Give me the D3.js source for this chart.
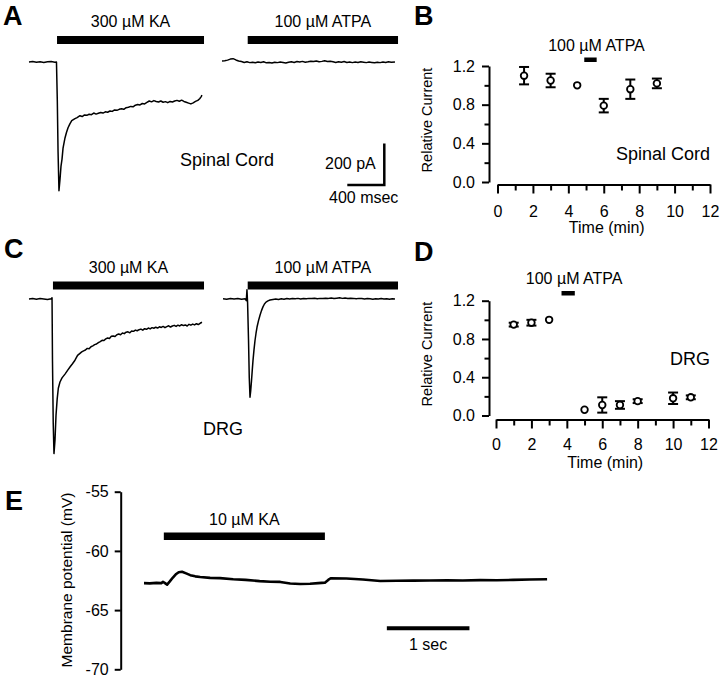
<!DOCTYPE html>
<html>
<head>
<meta charset="utf-8">
<script src="https://cdnjs.cloudflare.com/ajax/libs/d3/7.8.5/d3.min.js"></script>
<style>
  body { margin: 0; background: #fff; }
  svg { font-family: "Liberation Sans", Arial, sans-serif; }
</style>
</head>
<body>
<div id="wrapper"></div>
<script>
// ---- data ----
// whole-cell currents: [time (msec), current (pA)], 0 pA = holding baseline
const kaSpinal = [[0,0],[40,2],[80,-1],[120,1],[160,-2],[200,1],[240,2],[280,-1],[297,0],[306,-185],[314,-430],[324,-620],[335,-566],[346,-502],[357,-468],[368,-415],[389,-366],[405,-340],[422,-317],[442,-298],[462,-283],[497,-273],[520,-268],[551,-259],[575,-263],[600,-255],[625,-257],[650,-252],[675,-254],[700,-246],[725,-251],[750,-247],[775,-243],[800,-246],[825,-240],[850,-242],[875,-236],[900,-238],[925,-231],[950,-233],[975,-228],[1000,-225],[1025,-228],[1050,-220],[1075,-218],[1100,-214],[1125,-216],[1150,-208],[1175,-205],[1200,-207],[1225,-200],[1250,-202],[1275,-195],[1300,-188],[1325,-192],[1350,-186],[1375,-190],[1400,-193],[1425,-188],[1450,-194],[1475,-191],[1500,-196],[1525,-190],[1550,-193],[1575,-188],[1600,-185],[1625,-189],[1650,-184],[1675,-190],[1700,-194],[1725,-198],[1750,-202],[1775,-197],[1800,-190],[1825,-185],[1845,-177],[1860,-168],[1870,-160]];
const atpaSpinal = [[0,5],[30,6],[60,9],[90,14],[120,16],[150,10],[180,5],[210,2],[240,-2],[270,1],[300,-3],[330,-1],[360,-4],[390,0],[420,-2],[450,1],[480,-4],[510,-2],[540,-5],[570,-1],[600,-3],[630,0],[660,-2],[690,-5],[720,-1],[750,1],[780,-2],[810,2],[840,0],[870,3],[900,-1],[930,1],[960,4],[990,2],[1020,5],[1050,1],[1080,3],[1110,6],[1140,2],[1170,4],[1200,1],[1230,-2],[1260,1],[1290,-1],[1320,2],[1350,-2],[1380,0],[1410,-3],[1440,0],[1470,-2],[1500,1],[1530,-1],[1560,-3],[1590,0],[1620,-2],[1650,-4],[1680,-1],[1710,-3],[1740,0],[1770,-2],[1800,1],[1830,-1],[1870,0]];
const kaDrg = [[0,0],[40,2],[80,-1],[120,2],[160,0],[200,-2],[240,1],[249,6],[254,-300],[262,-600],[270,-745],[281,-680],[292,-560],[305,-480],[317,-430],[335,-400],[357,-380],[389,-362],[415,-345],[443,-328],[470,-312],[497,-295],[525,-272],[551,-262],[570,-255],[590,-250],[610,-246],[630,-238],[650,-240],[670,-230],[690,-226],[710,-220],[730,-217],[750,-210],[770,-205],[790,-199],[810,-200],[830,-192],[850,-188],[870,-190],[890,-180],[910,-178],[930,-181],[950,-172],[970,-169],[990,-172],[1010,-164],[1030,-167],[1050,-160],[1070,-158],[1090,-163],[1110,-154],[1130,-156],[1150,-150],[1170,-153],[1190,-148],[1210,-145],[1230,-150],[1250,-143],[1270,-146],[1290,-140],[1310,-144],[1330,-138],[1350,-141],[1370,-136],[1390,-140],[1410,-134],[1430,-137],[1450,-132],[1470,-138],[1490,-133],[1510,-129],[1530,-135],[1550,-130],[1570,-127],[1590,-132],[1610,-126],[1630,-130],[1650,-124],[1670,-128],[1690,-125],[1710,-130],[1730,-122],[1750,-126],[1770,-121],[1790,-125],[1810,-119],[1830,-123],[1850,-117],[1870,-112]];
const atpaDrg = [[0,1],[40,-1],[80,2],[120,0],[160,2],[200,-1],[240,1],[252,-8],[259,44],[266,-20],[276,-200],[284,-380],[292,-473],[300,-440],[308,-395],[316,-345],[324,-298],[335,-245],[346,-200],[357,-165],[368,-135],[384,-104],[400,-78],[416,-56],[432,-38],[448,-24],[465,-15],[486,-9],[508,-5],[540,-2],[570,0],[600,-2],[630,1],[660,-1],[690,2],[720,0],[750,2],[780,1],[810,3],[840,0],[870,2],[900,1],[930,3],[960,2],[990,4],[1020,1],[1050,3],[1080,2],[1110,4],[1140,3],[1170,5],[1200,2],[1230,4],[1260,6],[1290,3],[1320,5],[1350,2],[1380,4],[1410,3],[1440,1],[1470,3],[1500,2],[1530,0],[1560,2],[1590,1],[1620,-1],[1650,1],[1680,0],[1710,2],[1740,0],[1770,1],[1800,-1],[1830,1],[1859,0]];

// drug application periods (msec, same time base as the traces)
const kaBarSpinal = [303, 1892];
const atpaBarSpinal = [278, 1903];
const kaBarDrg = [259, 1892];
const atpaBarDrg = [267, 1892];
const scaleBarPA = 200;
const scaleBarMs = 400;

// summary plots: relative current vs time (min)
const timeB = [1.5, 3, 4.5, 6, 7.5, 9];
const currentB = [1.10, 1.05, 1.00, 0.79, 0.96, 1.02];
const errB = [0.09, 0.07, 0, 0.07, 0.10, 0.05];
const atpaB = [4.9, 5.6];

const timeD = [1, 2, 3, 5, 6, 7, 8, 10, 11];
const currentD = [0.95, 0.97, 1.00, 0.06, 0.11, 0.11, 0.15, 0.18, 0.19];
const errD = [0.02, 0.03, 0, 0, 0.08, 0.04, 0.02, 0.06, 0.02];
const atpaD = [3.7, 4.45];

const yTicksRel = [0, 0.4, 0.8, 1.2];
const yMinorRel = [0.2, 0.6, 1.0];
const xTicksMin = [0, 2, 4, 6, 8, 10, 12];
const xMinorMin = [1, 3, 5, 7, 9, 11];

// membrane potential (sec, mV)
const membraneTime = [0,0.07,0.15,0.21,0.23,0.25,0.28,0.31,0.35,0.39,0.42,0.46,0.51,0.56,0.62,0.68,0.8,0.92,1.08,1.23,1.4,1.53,1.65,1.77,1.89,2.01,2.11,2.19,2.23,2.26,2.45,2.65,2.86,3.06,3.26,3.46,3.67,3.86,4.07,4.27,4.47,4.67,4.88];
const membraneMv = [-62.72,-62.74,-62.7,-62.72,-62.62,-62.7,-62.85,-62.6,-62.25,-61.95,-61.8,-61.76,-61.9,-62.05,-62.15,-62.2,-62.28,-62.3,-62.4,-62.45,-62.55,-62.6,-62.62,-62.75,-62.79,-62.77,-62.72,-62.68,-62.45,-62.31,-62.33,-62.42,-62.54,-62.52,-62.51,-62.5,-62.48,-62.5,-62.47,-62.48,-62.45,-62.42,-62.39];
const kaBarE = [0.24, 2.19];
const secBarE = [2.94, 3.94];
const mvTicks = [-55, -60, -65, -70];

// ---- canvas ----
const width = 720, height = 677;
const wrapper = d3.select("#wrapper")
  .append("svg")
    .attr("width", width)
    .attr("height", height);

const msPx = 37 / 400;   // px per msec (from 400 msec bar)
const paPx = 41.5 / 200; // px per pA (from 200 pA bar)

const addText = (txt, x, y, size, anchor = "start", weight = "normal") =>
  wrapper.append("text")
    .attr("x", x).attr("y", y)
    .attr("font-size", size)
    .attr("font-weight", weight)
    .attr("text-anchor", anchor)
    .attr("fill", "#000")
    .text(txt);

// panel letters
addText("A", 3, 25, 27, "start", "bold");
addText("B", 414, 25, 27, "start", "bold");
addText("C", 4, 258, 27, "start", "bold");
addText("D", 414, 261, 27, "start", "bold");
addText("E", 5, 510, 27, "start", "bold");

// ---- current traces ----
const drawTrace = (data, x0, y0, bar, barTop, label) => {
  const xScale = d3.scaleLinear().domain([0, 1]).range([x0, x0 + msPx]);
  const yScale = d3.scaleLinear().domain([0, -1]).range([y0, y0 + paPx]);
  wrapper.append("path")
    .datum(data)
    .attr("d", d3.line().x(d => xScale(d[0])).y(d => yScale(d[1])))
    .attr("fill", "none")
    .attr("stroke", "#000")
    .attr("stroke-width", 1.5)
    .attr("stroke-linejoin", "round");

  wrapper.append("rect")
    .attr("x", xScale(bar[0]))
    .attr("y", barTop)
    .attr("width", xScale(bar[1]) - xScale(bar[0]))
    .attr("height", 8)
    .attr("fill", "#000");
  addText(label, (xScale(bar[0]) + xScale(bar[1])) / 2, barTop - 9, 16, "middle");
};

drawTrace(kaSpinal, 29, 62, kaBarSpinal, 36, "300 µM KA");
drawTrace(atpaSpinal, 222, 62, atpaBarSpinal, 36, "100 µM ATPA");
drawTrace(kaDrg, 29, 299, kaBarDrg, 281.5, "300 µM KA");
drawTrace(atpaDrg, 223, 299, atpaBarDrg, 281.5, "100 µM ATPA");

addText("Spinal Cord", 180, 166, 18);
addText("DRG", 203, 435, 18);

// scale bar
const sbX = d3.scaleLinear().domain([0, 1]).range([347.3, 347.3 + msPx]);
const sbY = d3.scaleLinear().domain([0, 1]).range([185, 185 - paPx]);
wrapper.append("path")
  .attr("d", `M${sbX(0)},${sbY(0)}H${sbX(scaleBarMs)}V${sbY(scaleBarPA)}`)
  .attr("fill", "none")
  .attr("stroke", "#000")
  .attr("stroke-width", 2.5);
addText("200 pA", 325, 169, 16);
addText("400 msec", 329, 203, 16);

// ---- summary plots ----
const styleAxis = g => {
  g.attr("font-size", 16).attr("font-family", null);
  g.selectAll("path, line").attr("stroke", "#000").attr("stroke-width", 2);
  g.selectAll("text").attr("fill", "#000");
};

const drawSummary = (o) => {
  const xScale = d3.scaleLinear().domain([0, 12]).range([o.x0, o.x1]);
  const yScale = d3.scaleLinear().domain([0, 1.2]).range([o.yBottom, o.yTop]);

  // y axis
  wrapper.append("g")
    .attr("transform", `translate(${o.yAxisX},0)`)
    .call(d3.axisLeft(yScale).tickValues(yTicksRel).tickSize(7).tickSizeOuter(0)
      .tickPadding(7).tickFormat(d3.format(".1f")))
    .call(styleAxis);
  wrapper.append("g")
    .attr("transform", `translate(${o.yAxisX},0)`)
    .call(d3.axisLeft(yScale).tickValues(yMinorRel).tickSize(4.5).tickSizeOuter(0).tickFormat(""))
    .call(styleAxis)
    .call(g => g.select(".domain").remove());

  // x axis
  wrapper.append("g")
    .attr("transform", `translate(0,${o.xAxisY})`)
    .call(d3.axisBottom(xScale).tickValues(xTicksMin).tickSize(9).tickSizeOuter(0)
      .tickPadding(o.labelPad))
    .call(styleAxis);
  wrapper.append("g")
    .attr("transform", `translate(0,${o.xAxisY})`)
    .call(d3.axisBottom(xScale).tickValues(xMinorMin).tickSize(6).tickSizeOuter(0).tickFormat(""))
    .call(styleAxis)
    .call(g => g.select(".domain").remove());

  addText("Time (min)", (o.x0 + o.x1) / 2 + 3, o.xAxisY + 48, 16, "middle");
  wrapper.append("text")
    .attr("transform", `translate(432,${(o.yTop + o.yBottom) / 2 - 4}) rotate(-90)`)
    .attr("text-anchor", "middle")
    .attr("font-size", 14.5)
    .text("Relative Current");

  const dataset = o.time.map((t, i) => ({ t, v: o.value[i], e: o.err[i] }));
  const bars = wrapper.append("g")
    .attr("stroke", "#000")
    .attr("stroke-width", 2);
  dataset.filter(d => d.e > 0).forEach(d => {
    const cx = xScale(d.t);
    bars.append("line")
      .attr("x1", cx).attr("x2", cx)
      .attr("y1", yScale(d.v - d.e)).attr("y2", yScale(d.v + d.e));
    [d.v - d.e, d.v + d.e].forEach(v => {
      bars.append("line")
        .attr("x1", cx - 5).attr("x2", cx + 5)
        .attr("y1", yScale(v)).attr("y2", yScale(v));
    });
  });

  wrapper.append("g").selectAll("circle")
    .data(dataset)
    .enter().append("circle")
      .attr("cx", d => xScale(d.t))
      .attr("cy", d => yScale(d.v))
      .attr("r", 3.3)
      .attr("fill", "#fff")
      .attr("stroke", "#000")
      .attr("stroke-width", 1.8);

  // drug bar
  wrapper.append("rect")
    .attr("x", xScale(o.drug[0]))
    .attr("y", o.drugY)
    .attr("width", xScale(o.drug[1]) - xScale(o.drug[0]))
    .attr("height", 4.5)
    .attr("fill", "#000");
  addText("100 µM ATPA", (xScale(o.drug[0]) + xScale(o.drug[1])) / 2 + 6, o.drugY - 7, 16, "middle");

  addText(o.tissue, 710, o.tissueY, 18, "end");
};

drawSummary({
  x0: 497.5, x1: 710, yTop: 66, yBottom: 182, yAxisX: 489, xAxisY: 184.5, labelPad: 12,
  time: timeB, value: currentB, err: errB, drug: atpaB, drugY: 57.5,
  tissue: "Spinal Cord", tissueY: 160
});
drawSummary({
  x0: 496, x1: 708.5, yTop: 300.7, yBottom: 415.5, yAxisX: 489, xAxisY: 419.5, labelPad: 10,
  time: timeD, value: currentD, err: errD, drug: atpaD, drugY: 291,
  tissue: "DRG", tissueY: 365
});

// ---- E: membrane potential ----
const xE = d3.scaleLinear().domain([0, 1]).range([144, 226.6]);
const yE = d3.scaleLinear().domain([-70, -55]).range([669.3, 491.7]);

wrapper.append("g")
  .attr("transform", "translate(120.7,0)")
  .call(d3.axisLeft(yE).tickValues(mvTicks).tickSize(6).tickSizeOuter(0)
    .tickPadding(6).tickFormat(d => String(d)))
  .call(styleAxis);

wrapper.append("text")
  .attr("transform", "translate(72,580) rotate(-90)")
  .attr("text-anchor", "middle")
  .attr("font-size", 15.5)
  .text("Membrane potential (mV)");

wrapper.append("path")
  .datum(membraneTime.map((t, i) => [t, membraneMv[i]]))
  .attr("d", d3.line().x(d => xE(d[0])).y(d => yE(d[1])))
  .attr("fill", "none")
  .attr("stroke", "#000")
  .attr("stroke-width", 2.6)
  .attr("stroke-linejoin", "round");

wrapper.append("rect")
  .attr("x", xE(kaBarE[0]))
  .attr("y", 532.5)
  .attr("width", xE(kaBarE[1]) - xE(kaBarE[0]))
  .attr("height", 7.5)
  .attr("fill", "#000");
addText("10 µM KA", (xE(kaBarE[0]) + xE(kaBarE[1])) / 2, 525, 16, "middle");

wrapper.append("line")
  .attr("x1", xE(secBarE[0])).attr("x2", xE(secBarE[1]))
  .attr("y1", yE(-66.53)).attr("y2", yE(-66.53))
  .attr("stroke", "#000")
  .attr("stroke-width", 4);
addText("1 sec", (xE(secBarE[0]) + xE(secBarE[1])) / 2, 650, 16, "middle");
</script>
</body>
</html>
